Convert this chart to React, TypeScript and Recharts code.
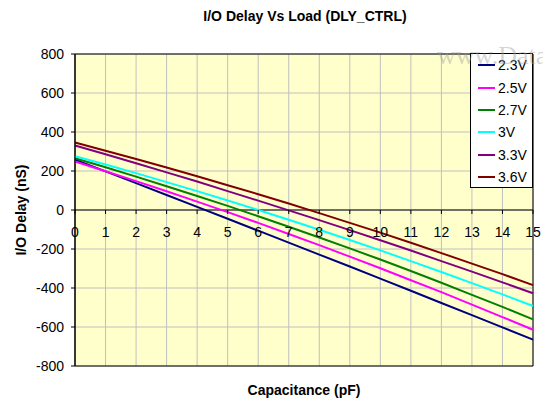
import React from "react";
import {
  LineChart,
  Line,
  XAxis,
  YAxis,
  CartesianGrid,
  ReferenceLine,
  ReferenceArea,
  Legend,
} from "recharts";

// ---- data ----
const CAPACITANCE = [0, 1, 2, 3, 4, 5, 6, 7, 8, 9, 10, 11, 12, 13, 14, 15];
const V23 = [258, 198, 138, 77, 16, -45, -106, -167, -229, -290, -352, -414, -477, -539, -602, -665];
const V25 = [249, 199, 148, 96, 43, -11, -66, -123, -180, -239, -299, -360, -421, -485, -549, -614];
const V27 = [265, 219, 171, 122, 72, 21, -32, -86, -141, -197, -254, -313, -373, -435, -497, -561];
const V30 = [276, 233, 189, 143, 97, 49, 0, -50, -101, -154, -207, -262, -318, -375, -433, -492];
const V33 = [331, 286, 240, 193, 146, 97, 48, -2, -52, -103, -155, -208, -262, -316, -371, -427];
const V36 = [346, 304, 262, 218, 173, 127, 81, 33, -16, -66, -116, -168, -221, -275, -329, -385];

const SERIES_NAMES = ["2.3V", "2.5V", "2.7V", "3V", "3.3V", "3.6V"];
const SERIES_VALUES = [V23, V25, V27, V30, V33, V36];
const SERIES_COLORS = ["#000080", "#FF00FF", "#008000", "#00FFFF", "#800080", "#800000"];

const X_TICKS = CAPACITANCE;
const Y_TICKS = [-800, -600, -400, -200, 0, 200, 400, 600, 800];
const Y_MIN = -800;
const Y_MAX = 800;

const TITLE = "I/O Delay Vs Load (DLY_CTRL)";
const X_TITLE = "Capacitance (pF)";
const Y_TITLE = "I/O Delay (nS)";
const WATERMARK = "www.DataSheet4U.com";

// ---- layout ----
const W = 543;
const H = 403;
const MARGIN = { top: 54, right: 10, bottom: 7, left: 0 };
const X_AXIS_H = 30;
const Y_AXIS_W = 75;
const PLOT_H = H - MARGIN.top - MARGIN.bottom - X_AXIS_H;
const ZERO_Y = MARGIN.top + (PLOT_H * Y_MAX) / (Y_MAX - Y_MIN);
const FONT = "Arial, 'Liberation Sans', Helvetica, sans-serif";

const rows = CAPACITANCE.map((x, i) => {
  const r: Record<string, number> = { x };
  SERIES_NAMES.forEach((n, k) => {
    r[n] = SERIES_VALUES[k][i];
  });
  return r;
});

const XTick = (props: any) => {
  const { x, payload } = props;
  return (
    <g>
      <line x1={x} x2={x} y1={ZERO_Y} y2={ZERO_Y + 4} stroke="#000" strokeWidth={1} />
      <text
        x={x}
        y={ZERO_Y + 26.5}
        textAnchor="middle"
        fontSize={14}
        fontFamily={FONT}
        fill="#000"
      >
        {payload.value}
      </text>
    </g>
  );
};

const LegendBox = () => (
  <div
    style={{
      width: 63,
      height: 135,
      boxSizing: "border-box",
      border: "1px solid #000",
      background: "#fff",
      fontFamily: FONT,
      fontSize: 14,
      color: "#000",
    }}
  >
    {SERIES_NAMES.map((n, k) => (
      <div
        key={n}
        style={{ height: 22.4, display: "flex", alignItems: "center", paddingLeft: 7 }}
      >
        <div style={{ width: 17, height: 2, background: SERIES_COLORS[k], marginRight: 3 }} />
        <span style={{ lineHeight: "14px" }}>{n}</span>
      </div>
    ))}
  </div>
);

export default function App() {
  return (
    <div
      style={{
        position: "absolute",
        left: 0,
        top: 0,
        width: W,
        height: H,
        overflow: "hidden",
        background: "#fff",
      }}
    >
      <LineChart width={W} height={H} data={rows} margin={MARGIN}>
        <CartesianGrid
          fill="#FFFFCC"
          stroke="#C0C0C0"
          strokeWidth={1}
          vertical
          horizontal
        />
        <XAxis
          dataKey="x"
          type="number"
          domain={[0, 15]}
          ticks={X_TICKS}
          interval={0}
          axisLine={false}
          tickLine={false}
          height={X_AXIS_H}
          tick={<XTick />}
        />
        <YAxis
          type="number"
          domain={[Y_MIN, Y_MAX]}
          ticks={Y_TICKS}
          interval={0}
          width={Y_AXIS_W}
          tickSize={4}
          tickMargin={7}
          axisLine={{ stroke: "#000" }}
          tickLine={{ stroke: "#000" }}
          tick={{ fill: "#000", fontSize: 14, fontFamily: FONT }}
        />
        <ReferenceArea
          x1={0}
          x2={15}
          y1={Y_MIN}
          y2={Y_MAX}
          fill="none"
          stroke="#000"
          strokeWidth={1}
          fillOpacity={0}
          ifOverflow="visible"
        />
        <ReferenceLine y={0} stroke="#000" strokeWidth={1} />
        {SERIES_NAMES.map((n, k) => (
          <Line
            key={n}
            dataKey={n}
            name={n}
            type="linear"
            stroke={SERIES_COLORS[k]}
            strokeWidth={2}
            dot={false}
            activeDot={false}
            isAnimationActive={false}
          />
        ))}
        <Legend
          layout="horizontal"
          verticalAlign="middle"
          align="center"
          content={() => <LegendBox />}
          wrapperStyle={{ position: "absolute", left: 470, top: 53, width: 63, height: 135 }}
        />
      </LineChart>
      <svg
        width={W}
        height={H}
        style={{ position: "absolute", left: 0, top: 0, pointerEvents: "none" }}
      >
        <text
          x={305}
          y={21}
          textAnchor="middle"
          fontFamily={FONT}
          fontWeight="bold"
          fontSize={14}
          fill="#000"
        >
          {TITLE}
        </text>
        <text
          x={304}
          y={395}
          textAnchor="middle"
          fontFamily={FONT}
          fontWeight="bold"
          fontSize={14}
          fill="#000"
        >
          {X_TITLE}
        </text>
        <text
          x={0}
          y={0}
          transform="translate(26,210) rotate(-90)"
          textAnchor="middle"
          fontFamily={FONT}
          fontWeight="bold"
          fontSize={14}
          fill="#000"
        >
          {Y_TITLE}
        </text>
        <text
          x={437}
          y={64}
          fontFamily="'Liberation Serif', 'Times New Roman', serif"
          fontSize={26}
          fill="#a0a0a0"
          fillOpacity={0.45}
        >
          {WATERMARK}
        </text>
      </svg>
    </div>
  );
}
